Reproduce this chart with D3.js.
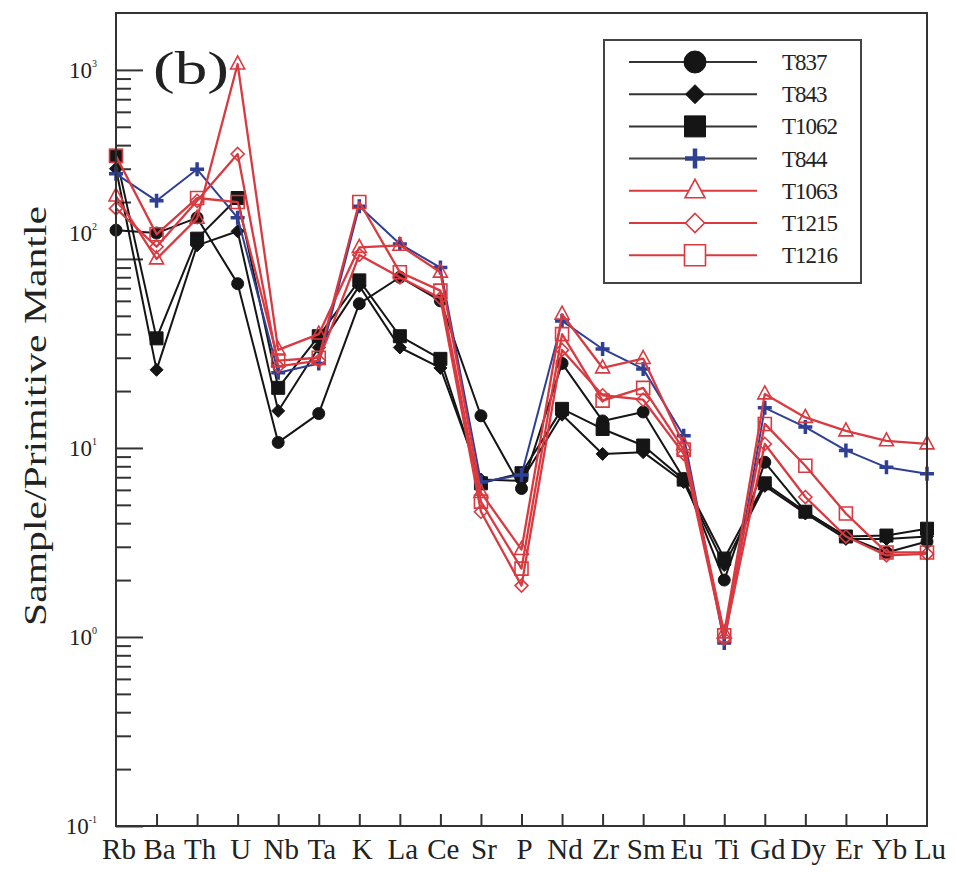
<!DOCTYPE html>
<html>
<head>
<meta charset="utf-8">
<script src="https://cdn.jsdelivr.net/npm/d3@7"></script>
<style>
  html, body { margin: 0; padding: 0; background: #fff; }
  svg { display: block; }
  text { font-family: "Liberation Serif", "Times New Roman", serif; fill: #222; }
</style>
</head>
<body>
<svg id="chart" width="957" height="872"></svg>
<script>
// Primitive-mantle-normalised trace element patterns
const categories = ["Rb","Ba","Th","U","Nb","Ta","K","La","Ce","Sr","P","Nd","Zr","Sm","Eu","Ti","Gd","Dy","Er","Yb","Lu"];

const T837  = [142, 137, 165, 74, 10.7, 15.2, 58, 80, 60, 14.8, 6.1, 28, 13.9, 15.5, 6.9, 2.0, 8.4, 4.6, 3.4, 2.8, 3.2];
const T843  = [300, 25.9, 118, 140, 15.7, 34, 72, 34, 26.5, 6.8, 6.7, 15, 9.3, 9.5, 6.6, 2.4, 6.3, 4.5, 3.3, 3.3, 3.4];
const T1062 = [351, 38, 128, 210, 20.8, 39, 77, 39, 29.6, 6.5, 7.35, 16.1, 12.6, 10.3, 6.8, 2.6, 6.5, 4.6, 3.4, 3.44, 3.74];
const T844  = [282, 203, 298, 165, 25, 28, 190, 120, 90, 6.6, 7.2, 47, 33.4, 26.2, 11.6, 0.93, 16.3, 12.9, 9.7, 7.9, 7.3];
const T1063 = [215, 100, 164, 1074, 33, 40, 115, 118, 85, 5.8, 2.9, 51, 26.5, 29.7, 10.4, 1.05, 19.3, 14.5, 12.3, 10.9, 10.5];
const T1215 = [185, 116, 203, 359, 27, 29, 105, 80, 62, 4.6, 1.87, 33, 19, 18, 9.3, 0.98, 10.5, 5.5, 3.4, 2.7, 2.75];
const T1216 = [351, 135, 210, 200, 29, 30, 200, 85, 68, 5.2, 2.3, 40, 17.8, 20.8, 9.8, 1.02, 13.4, 8.05, 4.5, 2.8, 2.8];

const seriesNames = ["T837", "T843", "T1062", "T844", "T1063", "T1215", "T1216"];
const seriesValues = [T837, T843, T1062, T844, T1063, T1215, T1216];

const yDecades = [0.1, 1, 10, 100, 1000];
const yDomain = [0.1, 2000];

// styling per series
const BLACK = "#151515", BLUE = "#2e3f94", RED = "#d93a40";
const styles = {
  T837:  { color: BLACK, shape: "circle",   fill: true,  lw: 2.0, legendLine: "#333" },
  T843:  { color: BLACK, shape: "diamond",  fill: true,  lw: 2.0, legendLine: "#333" },
  T1062: { color: BLACK, shape: "square",   fill: true,  lw: 2.0, legendLine: "#333" },
  T844:  { color: BLUE,  shape: "plus",     fill: false, lw: 2.0, legendLine: "#444" },
  T1063: { color: RED,   shape: "triangle", fill: false, lw: 2.3, legendLine: RED },
  T1215: { color: RED,   shape: "diamond",  fill: false, lw: 2.3, legendLine: RED },
  T1216: { color: RED,   shape: "square",   fill: false, lw: 2.3, legendLine: RED }
};

function markerPath(shape, s) {
  // s = half-size
  switch (shape) {
    case "circle": return d3.arc()({innerRadius: 0, outerRadius: s, startAngle: 0, endAngle: 2 * Math.PI});
    case "square": return `M${-s},${-s}H${s}V${s}H${-s}Z`;
    case "diamond": return `M0,${-s}L${s},0L0,${s}L${-s},0Z`;
    case "triangle": return `M0,${-s * 1.15}L${s},${s * 0.7}L${-s},${s * 0.7}Z`;
    case "plus": return `M${-s},0H${s}M0,${-s}V${s}`;
  }
}
const plotSize = { circle: 6, square: 6.5, diamond: 6.5, triangle: 7, plus: 7 };
const legendSize = { circle: 11, square: 10.5, diamond: 9.5, triangle: 10, plus: 10 };

const svg = d3.select("#chart");
const plotL = 116, plotR = 927, plotT = 13, plotB = 826;

const x = d3.scalePoint().domain(categories).range([plotL, plotR]);
const y = d3.scaleLog().domain(yDomain).range([plotB, plotT]);

// minor + major tick values
const minorTicks = [];
yDecades.forEach(d => { for (let k = 2; k <= 9; k++) { const v = d * k; if (v < yDomain[1]) minorTicks.push(v); } });

// y axis ticks (pointing inward)
const yMinor = svg.append("g").attr("transform", `translate(${plotL},0)`)
  .call(d3.axisRight(y).tickValues(minorTicks).tickSize(15).tickFormat(""));
const yMajor = svg.append("g").attr("transform", `translate(${plotL},0)`)
  .call(d3.axisRight(y).tickValues(yDecades).tickSize(27).tickFormat(""));
[yMinor, yMajor].forEach(g => {
  g.select(".domain").remove();
  g.selectAll("line").attr("stroke", "#333").attr("stroke-width", 2);
});

// x axis ticks on interior categories (pointing up)
const xAxis = svg.append("g").attr("transform", `translate(0,${plotB})`)
  .call(d3.axisTop(x).tickValues(categories.slice(1, -1)).tickSize(12).tickFormat(""));
xAxis.select(".domain").remove();
xAxis.selectAll("line").attr("stroke", "#333").attr("stroke-width", 2);

// x labels
svg.append("g").selectAll("text").data(categories).join("text")
  .attr("x", d => x(d) + 3).attr("y", 859)
  .attr("text-anchor", "middle")
  .attr("font-size", 29)
  .text(d => d);

// y labels as 10^n
const yl = svg.append("g").selectAll("text").data(yDecades).join("text")
  .attr("x", 97)
  .attr("y", d => y(d) + 8 + (d === 100 ? -26 : 0))
  .attr("text-anchor", "end")
  .attr("font-size", 23);
yl.append("tspan").text("10");
yl.append("tspan").attr("font-size", 10).attr("dy", -11).text(d => Math.round(Math.log10(d)));

// axis title
svg.append("text")
  .attr("transform", `translate(46,416) rotate(-90)`)
  .attr("text-anchor", "middle")
  .attr("font-size", 32)
  .attr("textLength", 420).attr("lengthAdjust", "spacingAndGlyphs")
  .text("Sample/Primitive Mantle");

// panel tag
svg.append("text").attr("x", 153).attr("y", 84).attr("font-size", 46)
  .attr("textLength", 76).attr("lengthAdjust", "spacingAndGlyphs").text("(b)");

// series lines and markers
const line = d3.line().x((d, i) => x(categories[i])).y(d => y(d));
const plot = svg.append("g");
seriesNames.forEach((name, si) => {
  const st = styles[name];
  const vals = seriesValues[si];
  const g = plot.append("g");
  g.append("path").datum(vals).attr("d", line)
    .attr("fill", "none").attr("stroke", st.color).attr("stroke-width", st.lw)
    .attr("stroke-linejoin", "round");
  g.selectAll("path.m").data(vals).join("path").attr("class", "m")
    .attr("transform", (d, i) => `translate(${x(categories[i])},${y(d)})`)
    .attr("d", markerPath(st.shape, plotSize[st.shape]))
    .attr("fill", st.fill ? st.color : "none")
    .attr("stroke", st.color)
    .attr("stroke-width", st.shape === "plus" ? 3.5 : (st.fill ? 1 : 1.6));
});

// frame
svg.append("rect").attr("x", plotL).attr("y", plotT).attr("width", plotR - plotL).attr("height", plotB - plotT)
  .attr("fill", "none").attr("stroke", "#333").attr("stroke-width", 2);

// legend
const lg = svg.append("g");
lg.append("rect").attr("x", 604).attr("y", 40).attr("width", 257).attr("height", 243)
  .attr("fill", "#fff").attr("stroke", "#444").attr("stroke-width", 2);
seriesNames.forEach((name, i) => {
  const st = styles[name];
  const cy = 62 + i * 32.2;
  lg.append("line").attr("x1", 629).attr("x2", 757).attr("y1", cy).attr("y2", cy)
    .attr("stroke", st.legendLine).attr("stroke-width", 2);
  lg.append("path").attr("transform", `translate(695,${cy})`)
    .attr("d", markerPath(st.shape, legendSize[st.shape]))
    .attr("fill", st.fill ? st.color : (st.shape === "plus" ? "none" : "#fff"))
    .attr("stroke", st.color)
    .attr("stroke-width", st.shape === "plus" ? 4.5 : (st.fill ? 1 : 1.6));
  lg.append("text").attr("x", 782).attr("y", cy + 8).attr("font-size", 23)
    .attr("letter-spacing", -1).text(name);
});
</script>
</body>
</html>
